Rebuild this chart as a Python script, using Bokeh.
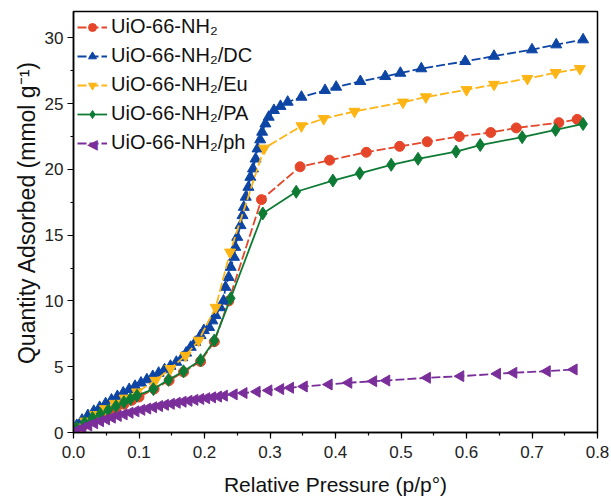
from bokeh.plotting import figure
from bokeh.models import Legend, LegendItem, SingleIntervalTicker, NumeralTickFormatter, Range1d, Label
from bokeh.embed import file_html
from bokeh.resources import INLINE

# ---- data ----
red_x = [0.005, 0.017, 0.029, 0.041, 0.053, 0.065, 0.077, 0.089, 0.100, 0.123, 0.146, 0.168, 0.194, 0.215,
         0.237, 0.287, 0.346, 0.391, 0.447, 0.498, 0.540, 0.589, 0.637, 0.676, 0.741, 0.769]
red_y = [0.25, 0.6, 0.95, 1.25, 1.55, 1.85, 2.15, 2.45, 2.7, 3.3, 3.95, 4.6, 5.4, 6.9,
         10.0, 17.7, 20.2, 20.7, 21.3, 21.75, 22.1, 22.5, 22.8, 23.15, 23.55, 23.8]

blue_x = [0.005, 0.013, 0.022, 0.031, 0.040, 0.049, 0.058, 0.067, 0.076, 0.085, 0.094, 0.103, 0.112, 0.121,
          0.130, 0.139, 0.148, 0.157, 0.166, 0.172, 0.179, 0.186, 0.194, 0.199, 0.207, 0.212, 0.217, 0.224,
          0.229, 0.232, 0.237, 0.240, 0.245, 0.247, 0.250, 0.255, 0.258, 0.260, 0.263, 0.267, 0.270, 0.274,
          0.278, 0.281, 0.285, 0.288, 0.293, 0.298, 0.306, 0.316, 0.327, 0.348, 0.384, 0.401, 0.438, 0.476,
          0.499, 0.531, 0.598, 0.642, 0.700, 0.737, 0.778]
blue_y = [0.55, 0.95, 1.3, 1.62, 1.92, 2.2, 2.48, 2.75, 3.02, 3.28, 3.52, 3.77, 4.02, 4.27,
          4.52, 4.78, 5.05, 5.35, 5.7, 6.05, 6.49, 6.87, 7.38, 7.76, 8.0, 8.5, 8.9, 9.5,
          10.0, 11.05, 11.8, 12.57, 13.33, 14.09, 14.85, 15.74, 16.5, 17.13, 17.9, 18.65, 19.41, 20.05,
          20.8, 21.57, 22.26, 22.84, 23.47, 23.98, 24.49, 24.8, 25.12, 25.5, 26.01, 26.26, 26.69, 27.07,
          27.32, 27.66, 28.21, 28.61, 29.1, 29.48, 29.86]

yellow_x = [0.005, 0.018, 0.033, 0.048, 0.063, 0.078, 0.097, 0.125, 0.148, 0.171, 0.191, 0.217, 0.239,
            0.291, 0.348, 0.382, 0.429, 0.503, 0.538, 0.600, 0.642, 0.693, 0.736, 0.773]
yellow_y = [0.4, 0.85, 1.35, 1.8, 2.2, 2.6, 3.07, 3.95, 4.85, 5.85, 7.0, 9.5, 13.7,
            21.6, 23.3, 23.85, 24.4, 25.1, 25.5, 26.05, 26.45, 26.9, 27.35, 27.65]

green_x = [0.005, 0.017, 0.029, 0.041, 0.053, 0.065, 0.077, 0.087, 0.097, 0.122, 0.145, 0.168, 0.194, 0.215,
           0.240, 0.289, 0.340, 0.396, 0.437, 0.485, 0.526, 0.584, 0.621, 0.685, 0.736, 0.778]
green_y = [0.35, 0.75, 1.1, 1.4, 1.7, 2.0, 2.3, 2.55, 2.8, 3.3, 4.0, 4.65, 5.5, 7.0,
           10.2, 16.65, 18.3, 19.15, 19.7, 20.35, 20.8, 21.35, 21.85, 22.45, 23.0, 23.45]

purple_x = [0.005, 0.014, 0.023, 0.032, 0.041, 0.050, 0.059, 0.068, 0.077, 0.086, 0.095, 0.104, 0.113,
            0.122, 0.131, 0.140, 0.149, 0.158, 0.167, 0.176, 0.185, 0.194, 0.203, 0.212, 0.221, 0.230,
            0.245, 0.260, 0.280, 0.298, 0.316, 0.331, 0.352, 0.390, 0.420, 0.458, 0.478, 0.540, 0.591,
            0.647, 0.672, 0.723, 0.764]
purple_y = [0.15, 0.35, 0.53, 0.7, 0.86, 1.0, 1.13, 1.26, 1.38, 1.5, 1.61, 1.72, 1.82,
            1.92, 2.01, 2.1, 2.18, 2.26, 2.34, 2.41, 2.48, 2.55, 2.61, 2.67, 2.73, 2.8,
            2.9, 3.0, 3.1, 3.2, 3.3, 3.4, 3.5, 3.65, 3.78, 3.9, 3.95, 4.16, 4.28,
            4.46, 4.54, 4.66, 4.79]

labels = ["UiO-66-NH\u2082", "UiO-66-NH\u2082/DC", "UiO-66-NH\u2082/Eu",
          "UiO-66-NH\u2082/PA", "UiO-66-NH\u2082/ph"]

FONT = "Liberation Sans"
PURPLE = "#7A2E9A"

p = figure(width=611, height=498, output_backend="svg", toolbar_location=None,
           x_range=Range1d(0, 0.8), y_range=Range1d(0, 32),
           min_border_left=73, min_border_right=14, min_border_top=11, min_border_bottom=66)
p.background_fill_color = "white"
p.border_fill_color = "white"
p.outline_line_color = "black"
p.outline_line_width = 1.5
p.grid.visible = False

series = [
    (red_x, red_y, "#E5462A", "circle", 10, "9 3"),
    (blue_x, blue_y, "#0D45A5", "triangle", 11, "9 3"),
    (yellow_x, yellow_y, "#FDB515", "inverted_triangle", 11, "9 3"),
    (green_x, green_y, "#0E7B35", "diamond", 13, "solid"),
    (purple_x, purple_y, PURPLE, "triangle", 11, "9 3"),
]

items = []
for (xs, ys, col, mk, sz, dash), lab in zip(series, labels):
    ln = p.line(xs, ys, line_color=col, line_width=1.8, line_dash=dash)
    if lab.endswith("/ph"):
        # left-pointing triangles (legend glyphs ignore angle, so the legend shows the line only)
        p.scatter(xs, ys, marker="triangle", angle=1.5708, size=sz, fill_color=col, line_color=col)
        items.append(LegendItem(label=lab, renderers=[ln]))
    else:
        sc = p.scatter(xs, ys, marker=mk, size=sz, fill_color=col, line_color=col)
        items.append(LegendItem(label=lab, renderers=[ln, sc]))

legend = Legend(items=items, location="top_left")
legend.label_text_font = FONT
legend.label_text_font_size = "20px"
legend.label_text_color = "#111111"
legend.glyph_width = 30
legend.glyph_height = 20
legend.label_height = 20
legend.label_standoff = 4
legend.spacing = 6
legend.padding = 4
legend.margin = 0
legend.border_line_alpha = 0
legend.background_fill_alpha = 0
p.add_layout(legend)

# left-pointing marker symbol for the last legend entry (screen units)
p.add_layout(Label(x=19, y=289, x_units="screen", y_units="screen", text="\u25c0",
                   text_align="center", text_baseline="middle", text_color=PURPLE,
                   text_font="DejaVu Sans", text_font_size="14px"))

p.xaxis.ticker = SingleIntervalTicker(interval=0.1, num_minor_ticks=2)
p.yaxis.ticker = SingleIntervalTicker(interval=5, num_minor_ticks=2)
p.xaxis.formatter = NumeralTickFormatter(format="0.0")
p.yaxis.formatter = NumeralTickFormatter(format="0")

p.xaxis.axis_label = "Relative Pressure (p/p\u00b0)"
p.yaxis.axis_label = "\u00a0\u00a0\u00a0Quantity Adsorbed (mmol g\u207b\u00b9)"
for ax in (p.xaxis, p.yaxis):
    ax.axis_label_text_font = FONT
    ax.axis_label_text_font_style = "normal"
    ax.axis_label_text_color = "#111111"
    ax.major_label_text_font = FONT
    ax.major_label_text_font_size = "17px"
    ax.major_label_text_color = "#222222"
    ax.axis_line_color = "black"
    ax.axis_line_width = 1.5
    ax.major_tick_line_color = "black"
    ax.minor_tick_line_color = "black"
    ax.major_tick_line_width = 1.2
    ax.minor_tick_line_width = 1.2
    ax.major_tick_out = 6
    ax.major_tick_in = 0
    ax.minor_tick_out = 3
    ax.minor_tick_in = 0
p.xaxis.axis_label_text_font_size = "21px"
p.yaxis.axis_label_text_font_size = "23px"
p.xaxis.axis_label_standoff = 12
p.yaxis.axis_label_standoff = 2
p.xaxis.major_label_standoff = 7
p.yaxis.major_label_standoff = 4

open("out.html", "w").write(file_html(p, INLINE))
